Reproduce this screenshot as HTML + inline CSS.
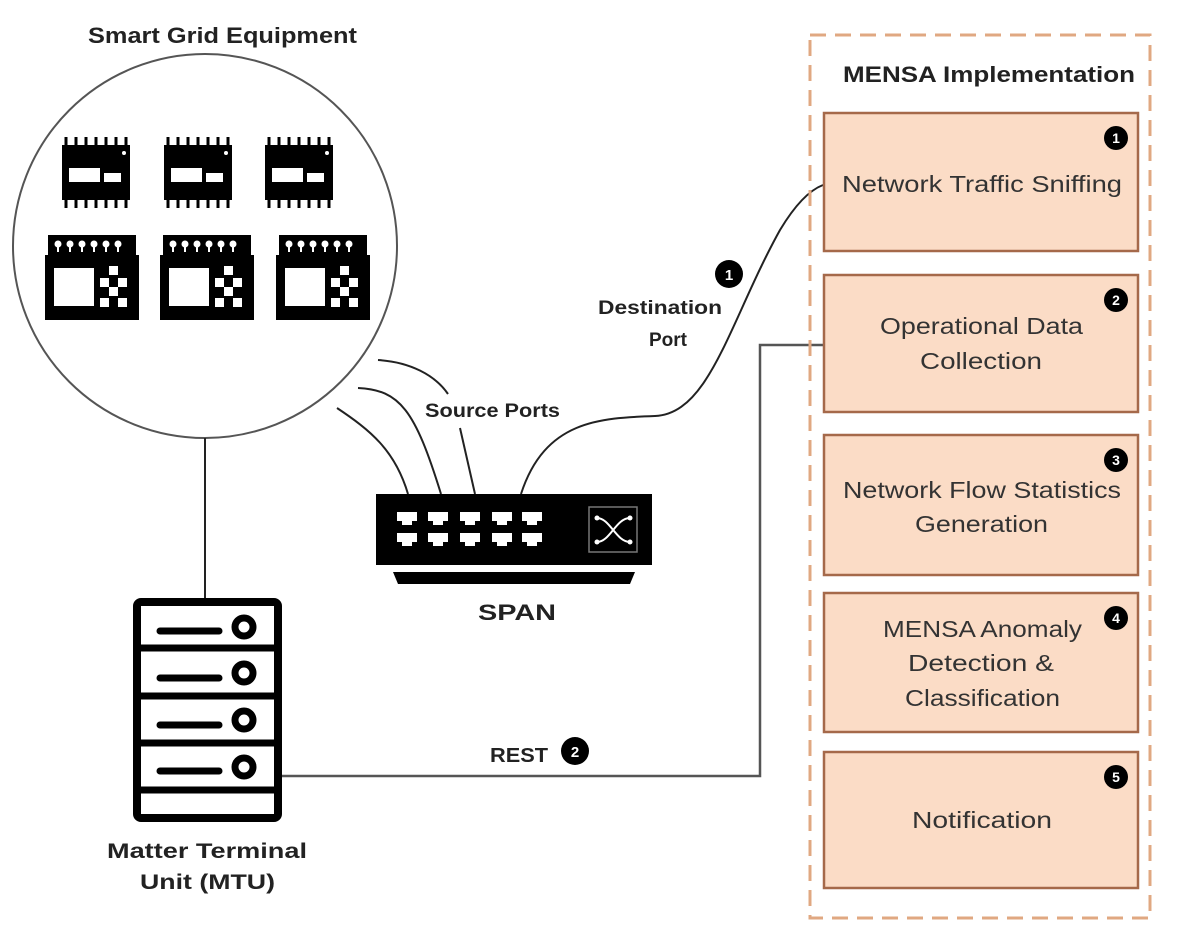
<!DOCTYPE html>
<html><head><meta charset="utf-8"><style>
html,body{margin:0;padding:0;background:#fff;}
svg{display:block;}
text{font-family:"Liberation Sans",sans-serif;}
</style></head><body>
<svg width="1195" height="942" viewBox="0 0 1195 942" xmlns="http://www.w3.org/2000/svg">
<defs>
<g id="chip">
  <g stroke="#000" stroke-width="3">
    <line x1="4" y1="0" x2="4" y2="71"/><line x1="14" y1="0" x2="14" y2="71"/><line x1="24" y1="0" x2="24" y2="71"/><line x1="34" y1="0" x2="34" y2="71"/><line x1="44" y1="0" x2="44" y2="71"/><line x1="54" y1="0" x2="54" y2="71"/><line x1="64" y1="0" x2="64" y2="71"/>
  </g>
  <rect x="0" y="8" width="68" height="55" fill="#000"/>
  <rect x="7" y="31" width="31" height="14" fill="#fff"/>
  <rect x="42" y="36" width="17" height="9" fill="#fff"/>
  <circle cx="62" cy="16" r="2" fill="#fff"/>
</g>
<g id="plc">
  <rect x="3" y="0" width="88" height="22" fill="#000"/>
  <rect x="0" y="20" width="94" height="65" fill="#000"/>
  <g fill="#fff">
    <circle cx="13" cy="9" r="3.5"/><circle cx="25" cy="9" r="3.5"/><circle cx="37" cy="9" r="3.5"/><circle cx="49" cy="9" r="3.5"/><circle cx="61" cy="9" r="3.5"/><circle cx="73" cy="9" r="3.5"/>
    <rect x="12" y="12" width="2" height="5"/><rect x="24" y="12" width="2" height="5"/><rect x="36" y="12" width="2" height="5"/><rect x="48" y="12" width="2" height="5"/><rect x="60" y="12" width="2" height="5"/><rect x="72" y="12" width="2" height="5"/>
    <rect x="9" y="33" width="40" height="38"/>
    <rect x="64" y="31" width="9" height="9"/>
    <rect x="55" y="43" width="9" height="9"/><rect x="73" y="43" width="9" height="9"/>
    <rect x="64" y="52" width="9" height="9"/>
    <rect x="55" y="63" width="9" height="9"/><rect x="73" y="63" width="9" height="9"/>
  </g>
</g>
<g id="port"><path d="M0 0H20V9H15V13H5V9H0Z" fill="#fff"/></g>
</defs>

<circle cx="205" cy="246" r="192" fill="#fff" stroke="#555" stroke-width="2"/>
<use href="#chip" x="62" y="137"/>
<use href="#chip" x="164" y="137"/>
<use href="#chip" x="265" y="137"/>
<use href="#plc" x="45" y="235"/>
<use href="#plc" x="160" y="235"/>
<use href="#plc" x="276" y="235"/>

<text x="88" y="43" font-size="22" font-weight="bold" textLength="269" lengthAdjust="spacingAndGlyphs" fill="#222">Smart Grid Equipment</text>

<g fill="none" stroke="#222" stroke-width="2">
  <line x1="205" y1="438" x2="205" y2="598"/>
  <path d="M337 408 C370 430 395 450 408 494"/>
  <path d="M358 388 C400 390 415 410 441 494"/>
  <path d="M378 360 C410 362 435 375 448 394"/>
  <path d="M460 428 L475 494"/>
  <path d="M521 494 C545 420 600 418 655 416 C710 414 730 320 780 230 C795 205 810 190 823 185"/>
</g>
<g fill="none" stroke="#555" stroke-width="2.5">
  <path d="M282 776 H760 V345 H823"/>
</g>

<rect x="376" y="494" width="276" height="71" fill="#000"/>
<path d="M393 572 H635 L630 584 H398 Z" fill="#000"/>
<use href="#port" x="397" y="512"/><use href="#port" x="428" y="512"/><use href="#port" x="460" y="512"/><use href="#port" x="492" y="512"/><use href="#port" x="522" y="512"/>
<use href="#port" x="397" y="533"/><use href="#port" x="428" y="533"/><use href="#port" x="460" y="533"/><use href="#port" x="492" y="533"/><use href="#port" x="522" y="533"/>
<rect x="589" y="507" width="48" height="45" fill="none" stroke="#777" stroke-width="1.5"/>
<g stroke="#fff" stroke-width="2" fill="none">
  <path d="M597 518 C610 518 616 542 630 542"/>
  <path d="M597 542 C610 542 616 518 630 518"/>
</g>
<g fill="#fff"><circle cx="597" cy="518" r="2.5"/><circle cx="597" cy="542" r="2.5"/><circle cx="630" cy="518" r="2.5"/><circle cx="630" cy="542" r="2.5"/></g>
<text x="478" y="620" font-size="22" font-weight="bold" textLength="78" lengthAdjust="spacingAndGlyphs" fill="#222">SPAN</text>

<text x="425" y="417" font-size="19" font-weight="bold" textLength="135" lengthAdjust="spacingAndGlyphs" fill="#222">Source Ports</text>
<text x="598" y="314" font-size="19" font-weight="bold" textLength="124" lengthAdjust="spacingAndGlyphs" fill="#222">Destination</text>
<text x="668" y="346" font-size="19" font-weight="bold" text-anchor="middle" fill="#222">Port</text>
<circle cx="729" cy="274" r="14" fill="#000"/>
<text x="729" y="280" font-size="15" font-weight="bold" text-anchor="middle" fill="#fff">1</text>

<text x="490" y="762" font-size="20" font-weight="bold" textLength="58" lengthAdjust="spacingAndGlyphs" fill="#222">REST</text>
<circle cx="575" cy="751" r="14" fill="#000"/>
<text x="575" y="757" font-size="15" font-weight="bold" text-anchor="middle" fill="#fff">2</text>

<rect x="137" y="602" width="141" height="216" rx="4" fill="#fff" stroke="#000" stroke-width="8"/>
<g stroke="#000" stroke-width="7">
  <line x1="137" y1="648" x2="278" y2="648"/>
  <line x1="137" y1="696" x2="278" y2="696"/>
  <line x1="137" y1="743" x2="278" y2="743"/>
  <line x1="137" y1="790" x2="278" y2="790"/>
</g>
<g stroke="#000" stroke-width="7" stroke-linecap="round">
  <line x1="160" y1="631" x2="219" y2="631"/>
  <line x1="160" y1="678" x2="219" y2="678"/>
  <line x1="160" y1="725" x2="219" y2="725"/>
  <line x1="160" y1="771" x2="219" y2="771"/>
</g>
<g fill="#fff" stroke="#000" stroke-width="7">
  <circle cx="244" cy="627" r="9"/><circle cx="244" cy="673" r="9"/><circle cx="244" cy="720" r="9"/><circle cx="244" cy="767" r="9"/>
</g>
<text x="107" y="858" font-size="21" font-weight="bold" textLength="200" lengthAdjust="spacingAndGlyphs" fill="#222">Matter Terminal</text>
<text x="140" y="889" font-size="21" font-weight="bold" textLength="135" lengthAdjust="spacingAndGlyphs" fill="#222">Unit (MTU)</text>

<rect x="810" y="35" width="340" height="883" fill="none" stroke="#e0a882" stroke-width="3" stroke-dasharray="16,9"/>
<text x="843" y="82" font-size="22" font-weight="bold" textLength="292" lengthAdjust="spacingAndGlyphs" fill="#222">MENSA Implementation</text>

<g fill="#fbdcc6" stroke="#a5694a" stroke-width="2.5">
  <rect x="824" y="113" width="314" height="138"/>
  <rect x="824" y="275" width="314" height="137"/>
  <rect x="824" y="435" width="314" height="140"/>
  <rect x="824" y="593" width="314" height="139"/>
  <rect x="824" y="752" width="314" height="136"/>
</g>
<g fill="#000">
  <circle cx="1116" cy="138" r="12"/><circle cx="1116" cy="300" r="12"/><circle cx="1116" cy="460" r="12"/><circle cx="1116" cy="618" r="12"/><circle cx="1116" cy="777" r="12"/>
</g>
<g fill="#fff" font-size="14" font-weight="bold" text-anchor="middle">
  <text x="1116" y="143">1</text><text x="1116" y="305">2</text><text x="1116" y="465">3</text><text x="1116" y="623">4</text><text x="1116" y="782">5</text>
</g>
<g fill="#333" font-size="23">
  <text x="842" y="192" textLength="280" lengthAdjust="spacingAndGlyphs">Network Traffic Sniffing</text>
  <text x="880" y="334" textLength="203" lengthAdjust="spacingAndGlyphs">Operational Data</text>
  <text x="920" y="369" textLength="122" lengthAdjust="spacingAndGlyphs">Collection</text>
  <text x="843" y="498" textLength="278" lengthAdjust="spacingAndGlyphs">Network Flow Statistics</text>
  <text x="915" y="532" textLength="133" lengthAdjust="spacingAndGlyphs">Generation</text>
  <text x="883" y="637" textLength="199" lengthAdjust="spacingAndGlyphs">MENSA Anomaly</text>
  <text x="908" y="671" textLength="146" lengthAdjust="spacingAndGlyphs">Detection &amp;</text>
  <text x="905" y="706" textLength="155" lengthAdjust="spacingAndGlyphs">Classification</text>
  <text x="912" y="828" textLength="140" lengthAdjust="spacingAndGlyphs">Notification</text>
</g>
</svg>
</body></html>
